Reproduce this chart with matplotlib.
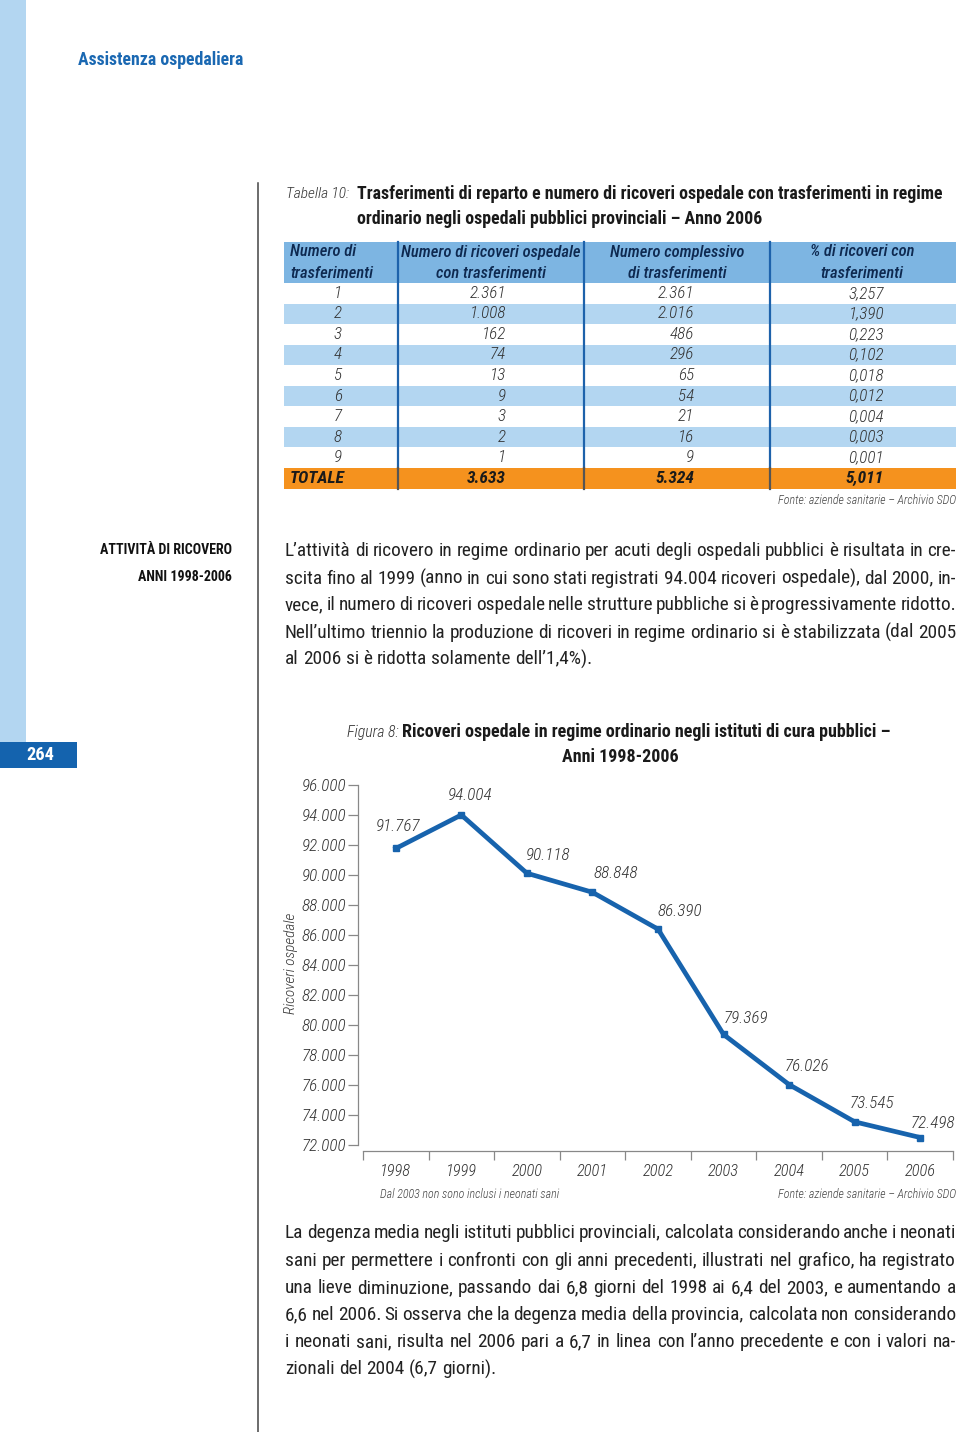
"""
Pagina 264 - Assistenza ospedaliera: tabella 10 e figura 8.
"""
import matplotlib
matplotlib.use("Agg")
import matplotlib.pyplot as plt
from matplotlib import font_manager as fm
from matplotlib.patches import Rectangle

# ---- dati -------------------------------------------------------------
n_trasf = ["1", "2", "3", "4", "5", "6", "7", "8", "9"]
ricoveri_trasf = [2361, 1008, 162, 74, 13, 9, 3, 2, 1]
tot_trasf = [2361, 2016, 486, 296, 65, 54, 21, 16, 9]
perc_ricoveri = [3.257, 1.390, 0.223, 0.102, 0.018, 0.012, 0.004, 0.003, 0.001]
totale = ["TOTALE", 3633, 5324, 5.011]

anni = ["1998", "1999", "2000", "2001", "2002", "2003", "2004", "2005", "2006"]
ricoveri = [91767, 94004, 90118, 88848, 86390, 79369, 76026, 73545, 72498]
y_ticks = list(range(72000, 96001, 2000))

par1 = [
    "L’attività di ricovero in regime ordinario per acuti degli ospedali pubblici è risultata in cre-",
    "scita fino al 1999 (anno in cui sono stati registrati 94.004 ricoveri ospedale), dal 2000, in-",
    "vece, il numero di ricoveri ospedale nelle strutture pubbliche si è progressivamente ridotto.",
    "Nell’ultimo triennio la produzione di ricoveri in regime ordinario si è stabilizzata (dal 2005",
    "al 2006 si è ridotta solamente dell’1,4%).",
]
par2 = [
    "La degenza media negli istituti pubblici provinciali, calcolata considerando anche i neonati",
    "sani per permettere i confronti con gli anni precedenti, illustrati nel grafico, ha registrato",
    "una lieve diminuzione, passando dai 6,8 giorni del 1998 ai 6,4 del 2003, e aumentando a",
    "6,6 nel 2006. Si osserva che la degenza media della provincia, calcolata non considerando",
    "i neonati sani, risulta nel 2006 pari a 6,7 in linea con l’anno precedente e con i valori na-",
    "zionali del 2004 (6,7 giorni).",
]

# ---- stile ------------------------------------------------------------
BLU = "#1763ad"
BLU_CHIARO = "#b3d6f1"
BLU_HEAD = "#7db5e2"
ARANCIO = "#f5921e"

avail = {f.name for f in fm.fontManager.ttflist}
FONT = next((f for f in ["Liberation Sans Narrow", "Arial Narrow", "Roboto Condensed",
                         "DejaVu Sans Condensed", "Roboto", "Liberation Sans"] if f in avail),
            "DejaVu Sans")
plt.rcParams["font.family"] = [FONT, "DejaVu Sans"]
if FONT == "DejaVu Sans":
    plt.rcParams["font.stretch"] = "condensed"

LIGHT_IT = dict(style="italic", weight="light")


def fmt_int(v):
    return f"{v:,}".replace(",", ".")


def fmt_dec(v):
    return f"{v:.3f}".replace(".", ",")


fig = plt.figure(figsize=(9.6, 14.32), dpi=100)
renderer = fig.canvas.get_renderer()


def text_w(s, size, **kw):
    t = fig.text(0, 0, s, fontsize=size, **kw)
    w = t.get_window_extent(renderer).width
    t.remove()
    return w


def fit(s, width, **kw):
    return 10 * width / text_w(s, 10, **kw)


# pagina in coordinate pixel (origine in alto a sinistra)
pg = fig.add_axes([0, 0, 1, 1])
pg.set_xlim(0, 960)
pg.set_ylim(1432, 0)
pg.axis("off")


def justify(lines, x0, x1, y0, dy, size, color="#222"):
    space = text_w("a a", size) - text_w("aa", size)
    for i, line in enumerate(lines):
        words = line.split()
        ws = [text_w(w, size) for w in words]
        if i == len(lines) - 1 or len(words) == 1:
            gap = space
        else:
            gap = (x1 - x0 - sum(ws)) / (len(words) - 1)
        x = x0
        for w, wd in zip(words, ws):
            pg.text(x, y0 + i * dy, w, ha="left", va="baseline", fontsize=size, color=color)
            x += wd + gap


# fascia laterale, numero pagina, filetto
pg.add_patch(Rectangle((0, 0), 26, 742, color=BLU_CHIARO, lw=0))
pg.add_patch(Rectangle((0, 742), 77, 26, color="#1463ae", lw=0))
pg.text(40, 755, "264", color="white", weight="bold", ha="center", va="center",
        fontsize=fit("264", 28, weight="bold"))
pg.plot([258, 258], [183, 1432], color="#444", lw=1.1)

pg.text(78, 60, "Assistenza ospedaliera", color="#1a68b2", weight="bold", ha="left", va="center",
        fontsize=fit("Assistenza ospedaliera", 166, weight="bold"))

# ---- tabella 10 -------------------------------------------------------
t1 = "Trasferimenti di reparto e numero di ricoveri ospedale con trasferimenti in regime"
s_tit = fit(t1, 590, weight="bold")
pg.text(286, 194, "Tabella 10:", color="#333", fontsize=fit("Tabella 10:", 63, **LIGHT_IT),
        ha="left", va="center", **LIGHT_IT)
pg.text(357, 194, t1, weight="bold", color="#1a1a1a", fontsize=s_tit, ha="left", va="center")
pg.text(357, 219, "ordinario negli ospedali pubblici provinciali – Anno 2006", weight="bold",
        color="#1a1a1a", fontsize=s_tit, ha="left", va="center")

cols = [284, 397.7, 584.3, 769.5, 956]
row_h = 20.56
top_rows = 283
pg.add_patch(Rectangle((cols[0], 242), cols[-1] - cols[0], top_rows - 242, color=BLU_HEAD, lw=0))
for k in range(10):
    if k == 9:
        c = ARANCIO
    elif k % 2 == 1:
        c = BLU_CHIARO
    else:
        c = "white"
    pg.add_patch(Rectangle((cols[0], top_rows + k * row_h), cols[-1] - cols[0], row_h, color=c, lw=0))
y_tot = top_rows + 9 * row_h
y_end = top_rows + 10 * row_h
for x in cols[1:-1]:
    pg.plot([x, x], [242, y_tot], color="#1d62ab", lw=1.6)
    pg.plot([x, x], [y_tot, y_end], color="#555", lw=1.6)

HEAD = dict(style="italic", weight="medium")
s_head = fit("Numero di ricoveri ospedale", 178, **HEAD)
head_col = "#0e2950"
headers = [("Numero di", "trasferimenti"), ("Numero di ricoveri ospedale", "con trasferimenti"),
           ("Numero complessivo", "di trasferimenti"), ("% di ricoveri con", "trasferimenti")]
head_x = [290, 491, 677, 862]
for j, (a, b) in enumerate(headers):
    ha = "left" if j == 0 else "center"
    pg.text(head_x[j], 252, a, ha=ha, va="center", fontsize=s_head, color=head_col, **HEAD)
    pg.text(head_x[j], 273, b, ha=ha, va="center", fontsize=s_head, color=head_col, **HEAD)

s_body = fit("2.361", 36, **LIGHT_IT)
num_x = [338, 506, 694, 884]
for k in range(9):
    yc = top_rows + (k + 0.5) * row_h
    cells = [n_trasf[k], fmt_int(ricoveri_trasf[k]), fmt_int(tot_trasf[k]), fmt_dec(perc_ricoveri[k])]
    for j, s in enumerate(cells):
        pg.text(num_x[j], yc, s, ha="center" if j == 0 else "right", va="center",
                fontsize=s_body, color="#333", **LIGHT_IT)
yc = top_rows + 9.5 * row_h
tot_cells = [totale[0], fmt_int(totale[1]), fmt_int(totale[2]), fmt_dec(totale[3])]
for j, s in enumerate(tot_cells):
    pg.text(290 if j == 0 else num_x[j], yc, s, ha="left" if j == 0 else "right", va="center",
            style="italic", weight="bold", fontsize=s_body * 1.02, color="#1a1a1a")

fonte = "Fonte: aziende sanitarie – Archivio SDO"
s_small = fit(fonte, 178, **LIGHT_IT)
pg.text(956, 500, fonte, ha="right", va="center", fontsize=s_small, color="#444", **LIGHT_IT)

# ---- testo ------------------------------------------------------------
s_side = fit("ATTIVITÀ DI RICOVERO", 132, weight="bold")
pg.text(232, 550, "ATTIVITÀ DI RICOVERO", ha="right", va="center", weight="bold",
        fontsize=s_side, color="#111")
pg.text(232, 577, "ANNI 1998-2006", ha="right", va="center", weight="bold",
        fontsize=s_side, color="#111")

s_par = min(fit(l, 669) for l in (par1[:-1] + par2[:-1])) * 1.02
justify(par1, 285, 956, 556.5, 27, s_par)
justify(par2, 285, 956, 1238.5, 27.2, s_par)

# ---- figura 8 ---------------------------------------------------------
t2 = "Ricoveri ospedale in regime ordinario negli istituti di cura pubblici –"
s_fig = fit(t2, 491, weight="bold")
pg.text(347, 732, "Figura 8:", color="#333", fontsize=fit("Figura 8:", 52, **LIGHT_IT),
        ha="left", va="center", **LIGHT_IT)
pg.text(402, 732, t2, weight="bold", color="#1a1a1a", fontsize=s_fig, ha="left", va="center")
pg.text(620, 757, "Anni 1998-2006", weight="bold", color="#1a1a1a", fontsize=s_fig,
        ha="center", va="center")

s_tick = fit("96.000", 44, **LIGHT_IT)
s_year = fit("1998", 31, **LIGHT_IT)
pg.text(291, 963, "Ricoveri ospedale", rotation=90, ha="center", va="center",
        fontsize=fit("Ricoveri ospedale", 101, **LIGHT_IT), color="#333", **LIGHT_IT)
pg.text(380, 1194, "Dal 2003 non sono inclusi i neonati sani", ha="left", va="center",
        fontsize=s_small, color="#444", **LIGHT_IT)
pg.text(956, 1194, fonte, ha="right", va="center", fontsize=s_small, color="#444", **LIGHT_IT)

# asse del grafico: x 363..953 px, y 785 (96.000) .. 1145 (72.000) px
W, H = 960, 1432
ax = fig.add_axes([363 / W, 1 - 1145 / H, (953 - 363) / W, (1145 - 785) / H])
ax.patch.set_alpha(0)
# spine prima dei tick: set_position ricrea i tick
for side in ("top", "right"):
    ax.spines[side].set_visible(False)
ax.spines["left"].set_position(("outward", 3.6))
ax.spines["bottom"].set_position(("outward", 4.3))
for side in ("left", "bottom"):
    ax.spines[side].set_color("#888")
    ax.spines[side].set_linewidth(0.9)

xs = list(range(len(anni)))
ax.plot(xs, ricoveri, color=BLU, lw=3.4, marker="s", ms=4.5, solid_joinstyle="miter")
label_off = [(2, 22), (9, 19), (21, 18), (23, 19), (22, 18), (22, 16), (18, 18), (17, 18), (13, 14)]
for x, v, (dx, dy) in zip(xs, ricoveri, label_off):
    ax.annotate(fmt_int(v), (x, v), xytext=(dx, dy), textcoords="offset pixels",
                ha="center", va="center", fontsize=s_tick, color="#333", **LIGHT_IT)

ax.set_xlim(-0.5, len(anni) - 0.5)
ax.set_ylim(y_ticks[0], y_ticks[-1])
ax.tick_params(axis="y", direction="out", length=7.2, width=0.9, color="#888", pad=1.5)
ax.tick_params(axis="x", which="major", length=0, pad=9.5)
ax.tick_params(axis="x", which="minor", direction="out", length=6.5, width=0.9, color="#888")
ax.set_yticks(y_ticks)
ax.set_yticklabels([fmt_int(v) for v in y_ticks], fontsize=s_tick, color="#333", **LIGHT_IT)
ax.set_xticks(xs)
ax.set_xticklabels(anni, fontsize=s_year, color="#333", **LIGHT_IT)
ax.set_xticks([x - 0.5 for x in range(len(anni) + 1)], minor=True)

fig.savefig("out.png", dpi=100)
